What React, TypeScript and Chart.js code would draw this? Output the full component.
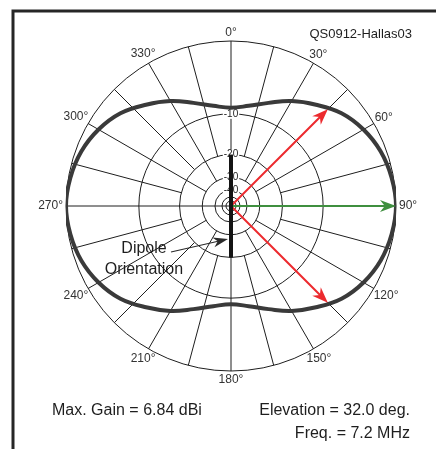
import React, { useEffect, useRef } from "react";
import { Chart, registerables } from "chart.js";

Chart.register(...registerables);

// ---- data ----
const azimuths = [0, 10, 20, 30, 40, 50, 60, 70, 80, 90, 100, 110, 120, 130, 140, 150, 160, 170, 180, 190, 200, 210, 220, 230, 240, 250, 260, 270, 280, 290, 300, 310, 320, 330, 340, 350, 360];
const gainDb = [-8.9, -8.3, -7.0, -5.3, -3.8, -2.3, -1.3, -0.6, -0.2, 0, -0.2, -0.6, -1.3, -2.3, -3.8, -5.3, -7.0, -8.3, -8.9, -8.3, -7.0, -5.3, -3.8, -2.3, -1.3, -0.6, -0.2, 0, -0.2, -0.6, -1.3, -2.3, -3.8, -5.3, -7.0, -8.3, -8.9];
const ringDb = [0, -10, -20, -30, -40, -50, -60];
const ringLabelDb = [-10, -20, -30, -40];
const ringLabels = ["-10", "-20", "-30", "-40"];
const spokeAngles = [0, 15, 30, 45, 60, 75, 90, 105, 120, 135, 150, 165, 180, 195, 210, 225, 240, 255, 270, 285, 300, 315, 330, 345];
const degreeAngles = [0, 30, 60, 90, 120, 150, 180, 210, 240, 270, 300, 330];
const degreeLabels = ["0°", "30°", "60°", "90°", "120°", "150°", "180°", "210°", "240°", "270°", "300°", "330°"];
const arrowAz = [45, 135, 90];
const arrowDb = [-3.2, -3.2, 0];
const arrowColors = ["#ec2a2e", "#ec2a2e", "#3f8f3f"];
const dipoleDb = -20;
const plotId = "QS0912-Hallas03";
const maxGainText = "Max. Gain = 6.84 dBi";
const elevationText = "Elevation = 32.0 deg.";
const freqText = "Freq. = 7.2 MHz";
const dipoleText = ["Dipole", "Orientation"];

// ARRL log-periodic radial scale: 0.89 per 2 dB
const frac = (db: number) => Math.pow(0.89, -db / 2);
const rad = (deg: number) => (deg * Math.PI) / 180;

const toPoint = (a: number, d: number) => {
  const f = frac(d);
  return { x: f * Math.sin(rad(a)), y: f * Math.cos(rad(a)) };
};
// closed loop: wrap one sample on each side so the spline is smooth at 0°
const n = azimuths.length;
const patternPoints = [
  toPoint(azimuths[n - 2] - 360, gainDb[n - 2]),
  ...azimuths.map((a, i) => toPoint(a, gainDb[i])),
  toPoint(azimuths[1] + 360, gainDb[1]),
];
const lastIdx = patternPoints.length - 1;

const FONT = "'Liberation Sans', Arial, sans-serif";

function drawArrow(ctx: CanvasRenderingContext2D, x0: number, y0: number, x1: number, y1: number, color: string, lw: number, len: number, half: number) {
  const ang = Math.atan2(y1 - y0, x1 - x0);
  const bx = x1 - Math.cos(ang) * len;
  const by = y1 - Math.sin(ang) * len;
  ctx.save();
  ctx.strokeStyle = color;
  ctx.fillStyle = color;
  ctx.lineWidth = lw;
  ctx.beginPath();
  ctx.moveTo(x0, y0);
  ctx.lineTo(x1 - Math.cos(ang) * len * 0.6, y1 - Math.sin(ang) * len * 0.6);
  ctx.stroke();
  const nx = -Math.sin(ang), ny = Math.cos(ang);
  ctx.beginPath();
  ctx.moveTo(x1, y1);
  ctx.lineTo(bx + nx * half, by + ny * half);
  ctx.lineTo(x1 - Math.cos(ang) * len * 0.7, y1 - Math.sin(ang) * len * 0.7);
  ctx.lineTo(bx - nx * half, by - ny * half);
  ctx.closePath();
  ctx.fill();
  ctx.restore();
}

const polarPlugin = {
  id: "polarGrid",
  beforeDatasetsDraw(chart: any) {
    const ctx: CanvasRenderingContext2D = chart.ctx;
    const xs = chart.scales.x, ys = chart.scales.y;
    const cx = xs.getPixelForValue(0), cy = ys.getPixelForValue(0);
    const pr = (f: number) => xs.getPixelForValue(f) - cx;
    const pt = (az: number, f: number) => [xs.getPixelForValue(f * Math.sin(rad(az))), ys.getPixelForValue(f * Math.cos(rad(az)))];
    ctx.save();
    ctx.strokeStyle = "#1e1e1e";
    ctx.lineWidth = 1;
    ringDb.forEach((d) => {
      ctx.beginPath();
      ctx.arc(cx, cy, pr(frac(d)), 0, Math.PI * 2);
      ctx.stroke();
    });
    spokeAngles.forEach((a) => {
      const inner = a % 90 === 0 ? 0 : a % 30 === 0 ? frac(-30) : frac(-20);
      const [x0, y0] = pt(a, inner);
      const [x1, y1] = pt(a, 1);
      ctx.beginPath();
      ctx.moveTo(x0, y0);
      ctx.lineTo(x1, y1);
      ctx.stroke();
    });
    ctx.font = `10px ${FONT}`;
    ctx.textAlign = "center";
    ctx.textBaseline = "middle";
    ringLabelDb.forEach((d, i) => {
      const [x, y] = pt(0, frac(d));
      const w = ctx.measureText(ringLabels[i]).width;
      ctx.fillStyle = "#fff";
      ctx.fillRect(x - w / 2 - 1, y - 5, w + 2, 10);
      ctx.fillStyle = "#222";
      ctx.fillText(ringLabels[i], x, y);
    });
    ctx.restore();
  },
  afterDatasetsDraw(chart: any) {
    const ctx: CanvasRenderingContext2D = chart.ctx;
    const xs = chart.scales.x, ys = chart.scales.y;
    const cx = xs.getPixelForValue(0), cy = ys.getPixelForValue(0);
    const R = xs.getPixelForValue(1) - cx;
    const pt = (az: number, f: number) => [xs.getPixelForValue(f * Math.sin(rad(az))), ys.getPixelForValue(f * Math.cos(rad(az)))];
    ctx.save();
    // arrows
    arrowAz.forEach((a, i) => {
      const [x1, y1] = pt(a, frac(arrowDb[i]));
      drawArrow(ctx, cx, cy, x1, y1, arrowColors[i], 2, 16, 6);
    });
    // dipole
    const [dx0, dy0] = pt(0, frac(dipoleDb));
    const [dx1, dy1] = pt(180, frac(dipoleDb));
    ctx.strokeStyle = "#141414";
    ctx.lineWidth = 4;
    ctx.beginPath();
    ctx.moveTo(dx0, dy0);
    ctx.lineTo(dx1, dy1);
    ctx.stroke();
    // dipole annotation
    drawArrow(ctx, cx - 60, cy + 46, cx - 3, cy + 33, "#2a2a2a", 1.2, 15, 5);
    ctx.fillStyle = "#1e1e1e";
    ctx.font = `16px ${FONT}`;
    ctx.textAlign = "center";
    ctx.textBaseline = "middle";
    ctx.fillText(dipoleText[0], cx - 87, cy + 43);
    ctx.fillText(dipoleText[1], cx - 87, cy + 64);
    // degree labels
    ctx.font = `12px ${FONT}`;
    ctx.fillStyle = "#333";
    degreeAngles.forEach((a, i) => {
      const w = ctx.measureText(degreeLabels[i]).width;
      const h = 11;
      const s = Math.sin(rad(a)), c = Math.cos(rad(a));
      const ext = Math.sqrt(Math.pow((s * w) / 2, 2) + Math.pow((c * h) / 2, 2));
      const r = R + 3 + ext;
      ctx.fillText(degreeLabels[i], cx + r * s, cy - r * c);
    });
    ctx.restore();
  },
  afterDraw(chart: any) {
    const ctx: CanvasRenderingContext2D = chart.ctx;
    ctx.save();
    ctx.strokeStyle = "#262626";
    ctx.lineWidth = 3;
    ctx.beginPath();
    ctx.moveTo(13, 449);
    ctx.lineTo(13, 11);
    ctx.lineTo(436, 11);
    ctx.stroke();
    ctx.fillStyle = "#1e1e1e";
    ctx.textBaseline = "middle";
    ctx.font = `13px ${FONT}`;
    ctx.textAlign = "right";
    ctx.fillText(plotId, 412, 34);
    ctx.font = `16px ${FONT}`;
    ctx.textAlign = "left";
    ctx.fillText(maxGainText, 52, 411);
    ctx.textAlign = "right";
    ctx.fillText(elevationText, 410, 411);
    ctx.fillText(freqText, 410, 434);
    ctx.restore();
  },
};

export default function App() {
  const ref = useRef<HTMLCanvasElement>(null);
  useEffect(() => {
    if (!ref.current) return;
    const chart = new Chart(ref.current, {
      type: "scatter",
      data: {
        datasets: [
          {
            data: patternPoints,
            showLine: true,
            tension: 0.4,
            pointRadius: 0,
            borderColor: "#3a3a3a",
            borderWidth: 4,
            fill: false,
            segment: {
              borderColor: (c: any) => (c.p0DataIndex === 0 || c.p1DataIndex === lastIdx ? "rgba(0,0,0,0)" : undefined),
            },
          },
        ],
      },
      options: {
        responsive: false,
        animation: false,
        devicePixelRatio: 1,
        layout: { padding: { left: 66, right: 40, top: 41, bottom: 78 } },
        scales: {
          x: { type: "linear", min: -1, max: 1, display: false },
          y: { type: "linear", min: -1, max: 1, display: false },
        },
        plugins: { legend: { display: false }, tooltip: { enabled: false } },
      },
      plugins: [polarPlugin],
    });
    return () => chart.destroy();
  }, []);
  return (
    <div style={{ position: "absolute", left: 0, top: 0, width: 436, height: 449, background: "#fff" }}>
      <canvas ref={ref} width={436} height={449} />
    </div>
  );
}
